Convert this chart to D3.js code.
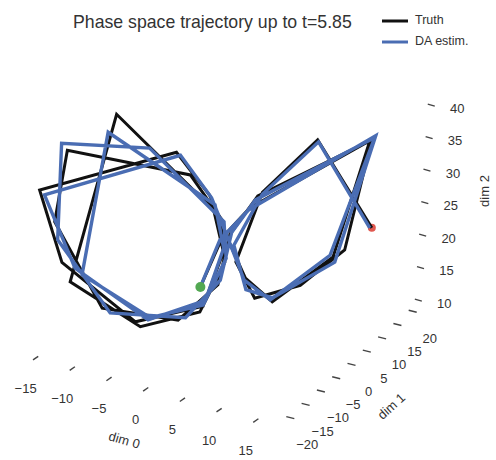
<!DOCTYPE html>
<html lang="en">
<head>
  <meta charset="UTF-8" />
  <title>Phase space trajectory</title>
  <script src="https://d3js.org/d3.v7.min.js"></script>
  <style>
    body {
      margin: 0;
      padding: 0;
      background: #fff;
    }
    svg text {
      font-family: "Liberation Sans", Arial, sans-serif;
      fill: #333;
    }
    .tick-mark {
      stroke: #444;
      stroke-width: 1.4px;
    }
    .traj {
      fill: none;
      stroke-linejoin: miter;
    }
  </style>
</head>
<body>
  <svg width="496" height="460"></svg>
  <script>
    // trajectory vertices (dim 0, dim 1, dim 2)
    const truthDim0 = [-2.5, -1.0, 1.2, 13.2, 11.5, 6.2, 2.9, 0.6, -0.8, -4.0, -17.8, -16.3, -9.1, -2.4, -0.5, -0.6, -10.3, -15.1, -8.6, -2.7, -0.3, 0.0, -2.8, -15.1, -16.7, -12.4, -5.0, -1.1, -0.3, 1.9, 13.1, 12.3, 8.8, 4.2, 1.6, 2.6, 7.6, 14.5];
    const truthDim1 = [-0.5, 2.0, 5.2, 14.2, 8.5, 2.2, 0.9, -1.4, -3.8, -8.0, -18.8, -13.3, -5.1, 0.6, 1.5, -2.6, -13.3, -13.1, -4.6, 0.4, 1.7, -1.0, -5.8, -17.1, -15.7, -8.4, -1.0, 1.9, 2.8, 5.9, 15.1, 10.3, 4.8, 1.2, 0.6, 5.6, 10.6, 13.5];
    const truthDim2 = [14.5, 21.5, 25.5, 36.0, 19.9, 13.9, 17.0, 24.3, 30.5, 37.8, 32.0, 19.1, 8.9, 11.1, 19.7, 27.8, 43.8, 16.4, 8.1, 10.2, 18.1, 25.8, 33.8, 38.3, 26.2, 11.3, 8.8, 14.3, 21.9, 27.3, 35.7, 20.5, 16.2, 14.2, 19.2, 28.2, 35.8, 23.3];

    const estDim0 = [-2.5, -1.2, 1.1, 13.7, 11.2, 6.0, 2.8, 0.8, -0.6, -3.6, -17.3, -15.0, -7.9, -2.2, -0.5, -0.5, -11.0, -14.0, -7.7, -2.4, -0.2, 0.2, -6.9, -15.7, -16.3, -11.6, -4.3, -0.9, -0.1, 1.7, 13.7, 11.7, 6.2, 3.3, 1.3, 2.6, 7.7, 14.3];
    const estDim1 = [-0.5, 1.8, 5.1, 14.7, 8.2, 2.0, 0.8, -1.3, -3.6, -7.6, -18.3, -12.0, -3.9, 0.8, 1.5, -2.5, -14.0, -12.0, -3.7, 0.6, 1.8, -0.8, -9.9, -17.7, -15.3, -7.6, -0.3, 2.1, 2.9, 5.7, 14.7, 8.7, 2.2, 0.3, 0.3, 5.6, 10.7, 13.3];
    const estDim2 = [14.5, 21.2, 25.2, 36.7, 20.2, 14.2, 16.7, 24.0, 30.1, 37.3, 31.2, 18.1, 9.1, 12.0, 20.3, 28.6, 41.1, 17.4, 9.4, 11.3, 18.7, 25.5, 38.3, 39.4, 23.4, 10.5, 9.1, 15.0, 22.3, 26.7, 36.5, 19.1, 14.5, 15.6, 21.8, 27.9, 35.5, 23.3];

    const dim0Ticks = [-15, -10, -5, 0, 5, 10, 15];
    const dim1Ticks = [-20, -15, -10, -5, 0, 5, 10, 15, 20];
    const dim2Ticks = [10, 15, 20, 25, 30, 35, 40];

    const seriesNames = ["Truth", "DA estim."];
    const seriesColors = ["#111", "#4a6db3"];
    const titleText = "Phase space trajectory up to t=5.85";

    const svg = d3.select("svg");

    // 3d box: each dimension scaled to [0,1] then laid along its screen edge
    const box = { d0: [-20, 18.2], d1: [-23.6, 21.7], d2: [9, 45] };
    const u0 = d3.scaleLinear().domain(box.d0).range([0, 1]);
    const u1 = d3.scaleLinear().domain(box.d1).range([0, 1]);
    const u2 = d3.scaleLinear().domain(box.d2).range([0, 1]);
    const corner = [-1.1, 347.7];
    const E0 = [280.4, 79.5];
    const E1 = [138.6, -120.5];
    const E2 = [15.5, -234];

    function project(a, b, c) {
      const f0 = u0(a), f1 = u1(b), f2 = u2(c);
      return [
        corner[0] + f0 * E0[0] + f1 * E1[0] + f2 * E2[0],
        corner[1] + f0 * E0[1] + f1 * E1[1] + f2 * E2[1]
      ];
    }

    const line = d3.line();
    const fmt = v => (v < 0 ? "\u2212" + Math.abs(v) : String(v));

    // axes: ticks along the outer bottom / right edges
    const g = svg.append("g");

    dim0Ticks.forEach(v => {
      const [x, y] = project(v, box.d1[0], box.d2[0]);
      g.append("line").attr("class", "tick-mark")
        .attr("x1", x - 2.6).attr("y1", y + 1.8).attr("x2", x + 2.6).attr("y2", y - 1.8);
      g.append("text").attr("x", x - 10).attr("y", y + 31)
        .attr("text-anchor", "middle").attr("dominant-baseline", "middle")
        .style("font-size", "13px")
        .text(fmt(v));
    });

    dim1Ticks.forEach(v => {
      const [x, y] = project(box.d0[1], v, box.d2[0]);
      g.append("line").attr("class", "tick-mark")
        .attr("x1", x - 4).attr("y1", y - 1).attr("x2", x + 4).attr("y2", y + 1);
      g.append("text").attr("x", x + 17).attr("y", y + 28)
        .attr("text-anchor", "middle").attr("dominant-baseline", "middle")
        .style("font-size", "13px")
        .text(fmt(v));
    });

    dim2Ticks.forEach(v => {
      const [x, y] = project(box.d0[1], box.d1[1], v);
      g.append("line").attr("class", "tick-mark")
        .attr("x1", x - 3.5).attr("y1", y - 1).attr("x2", x + 3.5).attr("y2", y + 1);
      g.append("text").attr("x", x + 26).attr("y", y + 4)
        .attr("text-anchor", "middle").attr("dominant-baseline", "middle")
        .style("font-size", "13px")
        .text(fmt(v));
    });

    g.append("text").attr("transform", "translate(124,441) rotate(16)")
      .attr("text-anchor", "middle").attr("dominant-baseline", "middle")
      .style("font-size", "13px").text("dim 0");
    g.append("text").attr("transform", "translate(392,407) rotate(-42)")
      .attr("text-anchor", "middle").attr("dominant-baseline", "middle")
      .style("font-size", "13px").text("dim 1");
    g.append("text").attr("transform", "translate(486,191) rotate(-90)")
      .attr("text-anchor", "middle").attr("dominant-baseline", "middle")
      .style("font-size", "13px").text("dim 2");

    // trajectories
    const truthPts = truthDim0.map((v, i) => project(v, truthDim1[i], truthDim2[i]));
    const estPts = estDim0.map((v, i) => project(v, estDim1[i], estDim2[i]));

    const last = truthPts[truthPts.length - 1];
    svg.append("circle").attr("cx", last[0]).attr("cy", last[1]).attr("r", 4)
      .attr("fill", "#e0584f");

    svg.append("path").attr("class", "traj").attr("d", line(truthPts))
      .attr("stroke", seriesColors[0]).attr("stroke-width", 3);
    svg.append("path").attr("class", "traj").attr("d", line(estPts))
      .attr("stroke", seriesColors[1]).attr("stroke-width", 3.4);

    const first = estPts[0];
    svg.append("circle").attr("cx", first[0]).attr("cy", first[1]).attr("r", 5)
      .attr("fill", "#52a852");

    // title
    svg.append("text").attr("x", 73).attr("y", 28)
      .style("font-size", "17.7px").text(titleText);

    // legend
    seriesNames.forEach((name, i) => {
      const y = 21 + i * 21;
      svg.append("line").attr("x1", 382).attr("x2", 408).attr("y1", y).attr("y2", y)
        .attr("stroke", seriesColors[i]).attr("stroke-width", 3);
      svg.append("text").attr("x", 415).attr("y", y)
        .attr("dominant-baseline", "middle")
        .style("font-size", "12.5px").text(name);
    });
  </script>
</body>
</html>
